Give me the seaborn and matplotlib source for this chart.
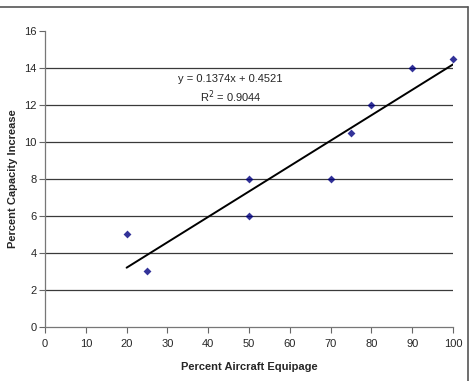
import numpy as np
import pandas as pd
import matplotlib
matplotlib.use("Agg")
import matplotlib.pyplot as plt
import seaborn as sns
from matplotlib.lines import Line2D

# datos
equipage = [20, 25, 50, 50, 70, 75, 80, 90, 100]
capacity = [5, 3, 8, 6, 8, 10.5, 12, 14, 14.5]
x_ticks = [0, 10, 20, 30, 40, 50, 60, 70, 80, 90, 100]
y_ticks = [0, 2, 4, 6, 8, 10, 12, 14, 16]

df = pd.DataFrame({"equipage": equipage, "capacity": capacity})

sns.set_style("white")
plt.rcParams["font.family"] = ["Liberation Sans", "DejaVu Sans"]

fig = plt.figure(figsize=(4.71, 3.81), dpi=100)
ax = fig.add_axes([0.0955, 0.142, 0.8665, 0.777])

# lineas de grilla horizontales (sin la de arriba)
for yv in y_ticks[1:-1]:
    ax.axhline(yv, color="#3a3a3a", lw=0.9, zorder=0)

sns.regplot(data=df, x="equipage", y="capacity", ci=None, ax=ax, marker="D",
            scatter_kws=dict(s=16, color="#000080", zorder=3,
                             linewidths=0, clip_on=False),
            line_kws=dict(color="black", lw=1.4, zorder=2))

# ecuacion de la regresion
slope, intercept = np.polyfit(df["equipage"], df["capacity"], 1)
pred = slope * df["equipage"] + intercept
r2 = 1 - ((df["capacity"] - pred) ** 2).sum() / ((df["capacity"] - df["capacity"].mean()) ** 2).sum()
ax.text(45.5, 13.4, f"y = {slope:.4f}x + {intercept:.4f}", ha="center", va="center", fontsize=8)
ax.text(45.5, 12.45, f"R$^2$ = {r2:.4f}", ha="center", va="center", fontsize=8)

ax.set_xlim(0, 100)
ax.set_ylim(0, 16)
ax.set_xticks(x_ticks)
ax.set_yticks(y_ticks)
ax.tick_params(axis="both", direction="out", length=4, width=0.8, color="#666666",
               labelsize=8, pad=2, left=True, bottom=True)
ax.tick_params(axis="x", pad=5)
for s in ["top", "right"]:
    ax.spines[s].set_visible(False)
for s in ["left", "bottom"]:
    ax.spines[s].set_color("#777777")
    ax.spines[s].set_linewidth(0.9)

ax.set_xlabel("Percent Aircraft Equipage", fontsize=8, fontweight="bold")
ax.set_ylabel("Percent Capacity Increase", fontsize=8, fontweight="bold")
ax.xaxis.set_label_coords(0.5, -0.118)
ax.yaxis.set_label_coords(-0.066, 0.5)

# marco exterior (arriba y derecha)
fx = 468 / 471
fy = (381 - 7) / 381
fig.add_artist(Line2D([0, fx], [fy, fy], transform=fig.transFigure, color="#555555", lw=1.2))
fig.add_artist(Line2D([fx, fx], [0, fy], transform=fig.transFigure, color="#555555", lw=1.2))

fig.savefig("out.png", dpi=100)
